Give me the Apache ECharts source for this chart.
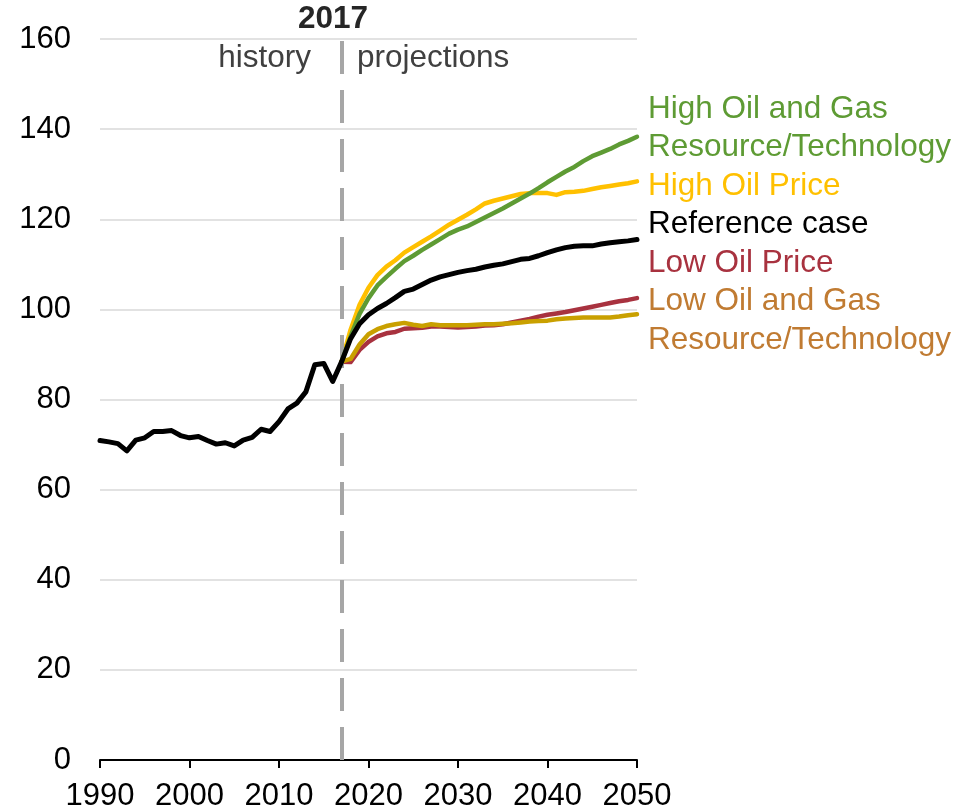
<!DOCTYPE html>
<html>
<head>
<meta charset="utf-8">
<script src="https://cdn.jsdelivr.net/npm/echarts@6/dist/echarts.min.js"></script>
<style>html,body{margin:0;padding:0;background:#fff;}#c{width:961px;height:811px;}</style>
</head>
<body>
<div id="c"></div>
<script>
const years = [1990,1991,1992,1993,1994,1995,1996,1997,1998,1999,2000,2001,2002,2003,2004,2005,2006,2007,2008,2009,2010,2011,2012,2013,2014,2015,2016,2017,2018,2019,2020,2021,2022,2023,2024,2025,2026,2027,2028,2029,2030,2031,2032,2033,2034,2035,2036,2037,2038,2039,2040,2041,2042,2043,2044,2045,2046,2047,2048,2049,2050];
// Reference case: history 1990-2016, then 2017-2050
const referenceCase = [70.9,70.6,70.2,68.6,71.0,71.5,72.9,72.9,73.1,72.0,71.5,71.8,70.9,70.1,70.4,69.7,71.0,71.6,73.4,72.9,75.1,77.9,79.2,81.7,87.7,88.0,84.0,
  88.4,93.5,96.8,98.8,100.2,101.3,102.6,104.0,104.5,105.5,106.5,107.2,107.7,108.2,108.6,108.9,109.4,109.8,110.1,110.6,111.1,111.3,111.9,112.6,113.2,113.7,114.0,114.1,114.1,114.5,114.8,115.0,115.2,115.5];
// Projections 2017-2050
const highOilGas = [88.4,94.0,99.0,102.5,105.3,107.2,109.0,110.7,111.9,113.2,114.4,115.6,116.8,117.7,118.4,119.4,120.4,121.4,122.4,123.5,124.6,125.7,126.9,128.2,129.4,130.6,131.6,132.9,134.0,134.8,135.6,136.6,137.4,138.3];
const highOilPrice = [88.4,95.5,101.0,104.8,107.6,109.5,110.9,112.6,113.8,115.0,116.2,117.5,118.8,119.9,121.0,122.2,123.5,124.1,124.6,125.1,125.6,125.8,125.8,125.8,125.4,126.0,126.1,126.3,126.7,127.1,127.4,127.7,128.0,128.4];
const lowOilPrice = [88.4,88.3,91.0,92.8,94.0,94.7,95.0,95.7,95.8,95.9,96.2,96.2,96.1,96.0,96.1,96.2,96.4,96.5,96.7,97.1,97.5,97.9,98.4,98.8,99.1,99.4,99.8,100.2,100.6,101.0,101.4,101.8,102.1,102.5];
const lowOilGas = [88.4,89.0,92.2,94.5,95.6,96.3,96.7,97.0,96.6,96.3,96.7,96.5,96.5,96.5,96.5,96.6,96.7,96.7,96.8,96.9,97.1,97.3,97.4,97.5,97.8,98.0,98.1,98.2,98.2,98.2,98.2,98.4,98.7,98.9];
const yTicks = [0,20,40,60,80,100,120,140,160];
const xTicks = [1990,2000,2010,2020,2030,2040,2050];
const splitYear = 2017;
const labels = [
  {lines:['High Oil and Gas','Resource/Technology'], color:'#5e9b34'},
  {lines:['High Oil Price'], color:'#ffc000'},
  {lines:['Reference case'], color:'#000000'},
  {lines:['Low Oil Price'], color:'#a8323f'},
  {lines:['Low Oil and Gas','Resource/Technology'], color:'#c07b32'}
];

const projYears = years.slice(years.indexOf(splitYear));
const pairs = (xs, vs) => vs.map((v,i)=>[xs[i], v]);
const FONT = '"Liberation Sans", Arial, sans-serif';
const FS = 31.5;

const chart = echarts.init(document.getElementById('c'), null, {renderer:'canvas'});
function mkLine(name, data, color, z, w){
  return {name, type:'line', data, showSymbol:false, symbol:'none', z,
    lineStyle:{color, width:w||4.5, join:'round', cap:'round'}, itemStyle:{color}, animation:false};
}
const graphics = [];
let yy = 107;
labels.forEach(l=>{
  l.lines.forEach(t=>{
    graphics.push({type:'text', left:648, top:yy-14, style:{text:t, fill:l.color, font:FS+'px '+FONT}});
    yy += 38.5;
  });
});
graphics.push({type:'text', left:298, top:3, style:{text:String(splitYear), fill:'#262626', font:'bold '+FS+'px '+FONT}});
graphics.push({type:'text', right:961-311, top:42, style:{text:'history', fill:'#404040', font:FS+'px '+FONT}});
graphics.push({type:'text', left:357, top:42, style:{text:'projections', fill:'#404040', font:FS+'px '+FONT}});

chart.setOption({
  animation:false,
  backgroundColor:'#fff',
  grid:{left:100, right:324, top:39, bottom:51, containLabel:false, outerBoundsMode:'none'},
  xAxis:{type:'value', min:1990, max:2050, interval:10,
    axisLine:{show:true, lineStyle:{color:'#000', width:2}},
    axisTick:{show:true, length:8, lineStyle:{color:'#000', width:2}},
    splitLine:{show:false},
    axisLabel:{color:'#000', fontSize:31, fontFamily:FONT, margin:21, formatter:v=>String(v)}},
  yAxis:{type:'value', min:0, max:160, interval:20,
    axisLine:{show:false}, axisTick:{show:false},
    splitLine:{show:true, lineStyle:{color:'#d9d9d9', width:1.5}},
    axisLabel:{color:'#000', fontSize:31, fontFamily:FONT, margin:29}},
  series:[
    Object.assign(mkLine('divider', [], '#a6a6a6', 1), {
      markLine:{silent:true, symbol:['none','none'], label:{show:false},
        lineStyle:{color:'#a6a6a6', width:4, type:[33,16]},
        data:[{xAxis:splitYear}]}}),
    mkLine('Low Oil Price', pairs(projYears, lowOilPrice), '#a8323f', 2),
    mkLine('Low Oil and Gas Resource/Technology', pairs(projYears, lowOilGas), '#c9a000', 3),
    mkLine('High Oil Price', pairs(projYears, highOilPrice), '#ffc000', 4),
    mkLine('High Oil and Gas Resource/Technology', pairs(projYears, highOilGas), '#5e9b34', 5),
    mkLine('Reference case', pairs(years, referenceCase), '#000000', 6, 5)
  ],
  graphic:graphics
});
</script>
</body>
</html>
